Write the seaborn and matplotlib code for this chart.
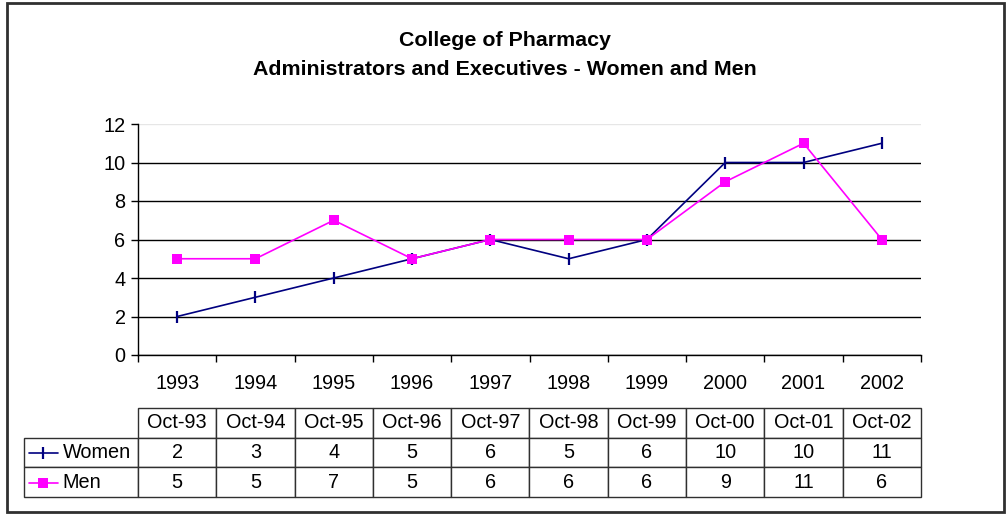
import seaborn as sns
import pandas as pd
import matplotlib.pyplot as plt
from matplotlib.lines import Line2D
from matplotlib.patches import Rectangle

years = ['1993', '1994', '1995', '1996', '1997', '1998', '1999', '2000', '2001', '2002']
months = ['Oct-93', 'Oct-94', 'Oct-95', 'Oct-96', 'Oct-97', 'Oct-98', 'Oct-99', 'Oct-00', 'Oct-01', 'Oct-02']
women = [2, 3, 4, 5, 6, 5, 6, 10, 10, 11]
men = [5, 5, 7, 5, 6, 6, 6, 9, 11, 6]

sns.set_style('white')
plt.rcParams['font.family'] = ['Liberation Sans', 'DejaVu Sans']
plt.rcParams['text.color'] = 'black'
plt.rcParams['xtick.color'] = 'black'
plt.rcParams['ytick.color'] = 'black'

FS = 14.3
W, H = 1006, 515
fig = plt.figure(figsize=(W / 100, H / 100), dpi=100)

# plot area in pixels: x 138..921, y 124..355
ax = fig.add_axes([138 / W, (H - 355) / H, 783 / W, 231 / H])

df = pd.DataFrame({'pos': range(len(years)), 'Women': women, 'Men': men})
sns.lineplot(data=df, x='pos', y='Women', ax=ax, color='#000080', lw=1.2,
             marker='|', markersize=9, markeredgewidth=1.6, markeredgecolor='#000080', zorder=3)
sns.lineplot(data=df, x='pos', y='Men', ax=ax, color='#FF00FF', lw=1.2,
             marker='s', markersize=7, markeredgewidth=0, zorder=4)

ax.set_xlim(-0.5, len(years) - 0.5)
ax.set_ylim(0, 12)
ax.set_yticks(range(0, 13, 2))
ax.set_xticks([i - 0.5 for i in range(len(years) + 1)])
ax.set_xticklabels([])
ax.set_xticks(range(len(years)), minor=True)
ax.set_xticklabels(years, minor=True)
ax.tick_params(axis='x', which='major', direction='out', length=5, width=1, color='black', bottom=True)
ax.tick_params(axis='x', which='minor', length=0, pad=14, labelsize=FS, labelcolor='black')
ax.tick_params(axis='y', direction='out', length=5, width=1, color='black', left=True,
               labelsize=FS, labelcolor='black', pad=4)
ax.set_xlabel('')
ax.set_ylabel('')

ax.yaxis.grid(True, color='black', lw=1)
ax.set_axisbelow(True)
gl = ax.get_ygridlines()
gl[-1].set_color('#e6e6e6')
for s in ['top', 'right']:
    ax.spines[s].set_visible(False)
for s in ['left', 'bottom']:
    ax.spines[s].set_color('black')
    ax.spines[s].set_linewidth(1)

fig.text(505 / W, 1 - 40 / H, 'College of Pharmacy', ha='center', va='center',
         fontsize=15.4, fontweight='bold', color='black')
fig.text(505 / W, 1 - 70 / H, 'Administrators and Executives - Women and Men', ha='center', va='center',
         fontsize=15.4, fontweight='bold', color='black')

# data table below the chart
cell_text = [[''] + months,
             ['Women'] + [str(v) for v in women],
             ['Men'] + [str(v) for v in men]]
col_w = [114 / 897] + [78.3 / 897] * len(years)
x0 = (24 - 138) / 783
y_top = (355 - 408) / 231
y_bot = (355 - 497) / 231
tbl = ax.table(cellText=cell_text, colWidths=col_w, cellLoc='center',
               bbox=[x0, y_bot, 897 / 783, y_top - y_bot])
tbl.auto_set_font_size(False)
tbl.set_fontsize(FS)
for (r, c), cell in tbl.get_celld().items():
    cell.set_edgecolor('#303030')
    cell.set_linewidth(1)
    cell.get_text().set_color('black')
    if r == 0 and c == 0:
        cell.visible_edges = 'open'
    if c == 0 and r > 0:
        cell.get_text().set_ha('left')
        cell._loc = 'left'
        cell.PAD = 0.34
tbl.set_clip_on(False)

# legend keys inside row label cells
for yy, col, mk, ms in [(453, '#000080', '|', 9), (483, '#FF00FF', 's', 7)]:
    fig.add_artist(Line2D([29 / W, 58 / W], [1 - yy / H, 1 - yy / H], color=col, lw=1.2))
    fig.add_artist(Line2D([43 / W], [1 - yy / H], color=col, marker=mk, markersize=ms,
                          markeredgecolor=col, markeredgewidth=1.6 if mk == '|' else 0))

fig.add_artist(Rectangle((7 / W, 3 / H), 997 / W, 509 / H, transform=fig.transFigure,
                         fill=False, edgecolor='#303030', lw=2))

fig.savefig('out.png', dpi=100)
